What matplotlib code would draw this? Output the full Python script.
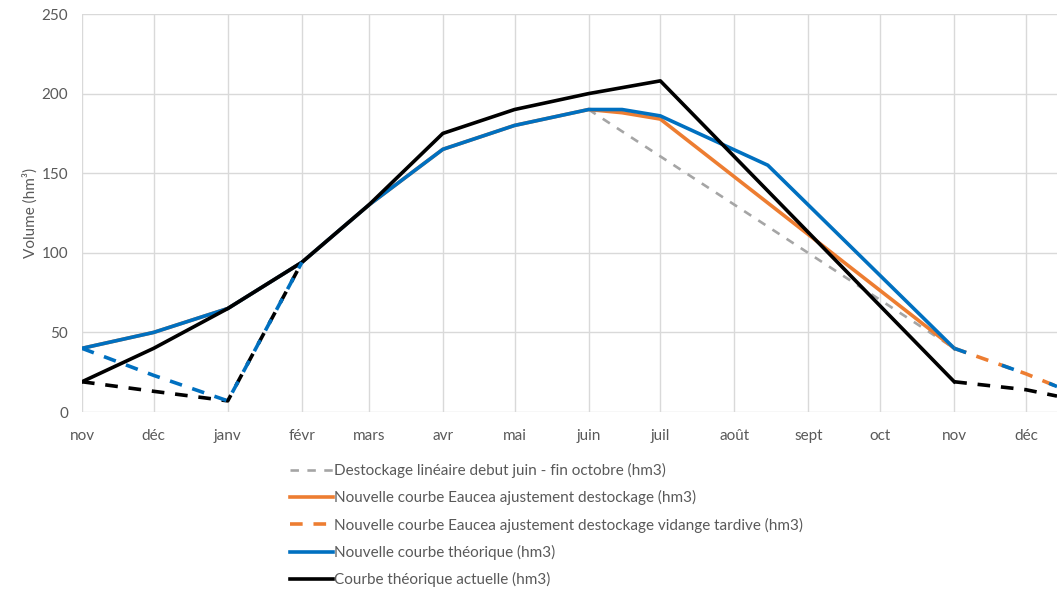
import pandas as pd
import matplotlib
matplotlib.use("Agg")
import matplotlib.pyplot as plt

plt.rcParams['font.family'] = ['Lato', 'DejaVu Sans']

# month ticks
tick_dates = ['2018-11-01', '2018-12-01', '2019-01-01', '2019-02-01', '2019-03-01', '2019-04-01',
              '2019-05-01', '2019-06-01', '2019-07-01', '2019-08-01', '2019-09-01', '2019-10-01',
              '2019-11-01', '2019-12-01']
tick_labels = ['nov', 'déc', 'janv', 'févr', 'mars', 'avr', 'mai', 'juin', 'juil', 'août',
               'sept', 'oct', 'nov', 'déc']

# grey dashed
grey_dates = ['2019-06-01', '2019-11-01']
grey_vals = [190, 40]

# orange solid
orange_dates = ['2018-11-01', '2018-12-01', '2019-01-01', '2019-02-01', '2019-03-01', '2019-04-01',
                '2019-05-01', '2019-06-01', '2019-06-15', '2019-07-01', '2019-11-01']
orange_vals = [40, 50, 65, 94, 130, 165, 180, 190, 188, 184, 40]

# orange dashed (vidange tardive)
orange_dash_dates = ['2019-11-01', '2019-12-01', '2019-12-14']
orange_dash_vals = [40, 24, 16]

# blue solid
blue_dates = ['2018-11-01', '2018-12-01', '2019-01-01', '2019-02-01', '2019-03-01', '2019-04-01',
              '2019-05-01', '2019-06-01', '2019-06-15', '2019-07-01', '2019-08-15', '2019-11-01']
blue_vals = [40, 50, 65, 94, 130, 165, 180, 190, 190, 186, 155, 40]

# blue dashed
blue_dash1_dates = ['2018-11-01', '2018-12-01', '2019-01-01', '2019-02-01']
blue_dash1_vals = [40, 23, 7, 94]
blue_dash2_dates = ['2019-11-01', '2019-12-01', '2019-12-14']
blue_dash2_vals = [40, 24, 16]

# black solid
black_dates = ['2018-11-01', '2018-12-01', '2019-01-01', '2019-02-01', '2019-03-01', '2019-04-01',
               '2019-05-01', '2019-06-01', '2019-07-01', '2019-11-01']
black_vals = [19, 40, 65, 94, 130, 175, 190, 200, 208, 19]

# black dashed
black_dash1_dates = ['2018-11-01', '2018-12-01', '2019-01-01', '2019-02-01']
black_dash1_vals = [19, 13, 7, 94]
black_dash2_dates = ['2019-11-01', '2019-12-01', '2019-12-14']
black_dash2_vals = [19, 14, 10]

d = pd.to_datetime

fig = plt.figure(figsize=(10.57, 5.92), dpi=100)
ax = fig.add_axes([82/1057, 1-412/592, 1-82/1057, (412-14)/592])

blue = '#0070C0'
orange = '#ED7D31'
grey = '#A5A5A5'
lw = 2.6

ax.plot(d(black_dash1_dates), black_dash1_vals, color='black', lw=lw, dashes=(3.5, 3), zorder=3)
ax.plot(d(black_dash2_dates), black_dash2_vals, color='black', lw=lw, dashes=(3.5, 3), zorder=3)
ax.plot(d(blue_dash1_dates), blue_dash1_vals, color=blue, lw=lw, dashes=(3.5, 3), zorder=3.1)
ax.plot(d(orange_dash_dates), orange_dash_vals, color=orange, lw=lw, dashes=(3.5, 3),
        label='Nouvelle courbe Eaucea ajustement destockage vidange tardive (hm3)', zorder=3)
ax.plot(d(blue_dash2_dates), blue_dash2_vals, color=blue, lw=lw, dashes=(3.5, 10.5), zorder=3.1)

ax.plot(d(grey_dates), grey_vals, color=grey, lw=1.9, dashes=(3.2, 3.2),
        label='Destockage linéaire debut juin - fin octobre (hm3)', zorder=2)
ax.plot(d(orange_dates), orange_vals, color=orange, lw=lw,
        label='Nouvelle courbe Eaucea ajustement destockage (hm3)', zorder=2.5)
ax.plot(d(blue_dates), blue_vals, color=blue, lw=lw,
        label='Nouvelle courbe théorique (hm3)', zorder=2.6)
ax.plot(d(black_dates), black_vals, color='black', lw=lw,
        label='Courbe théorique actuelle (hm3)', zorder=2.7)

ax.set_xlim(d('2018-11-01'), d('2019-12-14'))
ax.set_ylim(0, 250)
ax.set_yticks([0, 50, 100, 150, 200, 250])
ax.set_xticks(d(tick_dates))
ax.set_xticklabels(tick_labels)

for s in ax.spines.values():
    s.set_visible(False)
ax.grid(True, color='#D9D9D9', lw=1)
ax.set_axisbelow(True)
ax.tick_params(length=0, labelsize=11, labelcolor='#595959')
ax.tick_params(axis='x', pad=12)
ax.tick_params(axis='y', pad=10)
ax.set_ylabel('Volume (hm³)', fontsize=11, color='#595959', labelpad=3)

h, l = ax.get_legend_handles_labels()
order = [1, 2, 0, 3, 4]
fig.legend([h[i] for i in order], [l[i] for i in order], loc='upper left',
           bbox_to_anchor=(290/1057, 1-463/592), frameon=False, fontsize=11,
           labelcolor='#595959', handlelength=2.8, handletextpad=0.1, labelspacing=0.8,
           borderaxespad=0, borderpad=0)

fig.savefig('out.png', dpi=100)
